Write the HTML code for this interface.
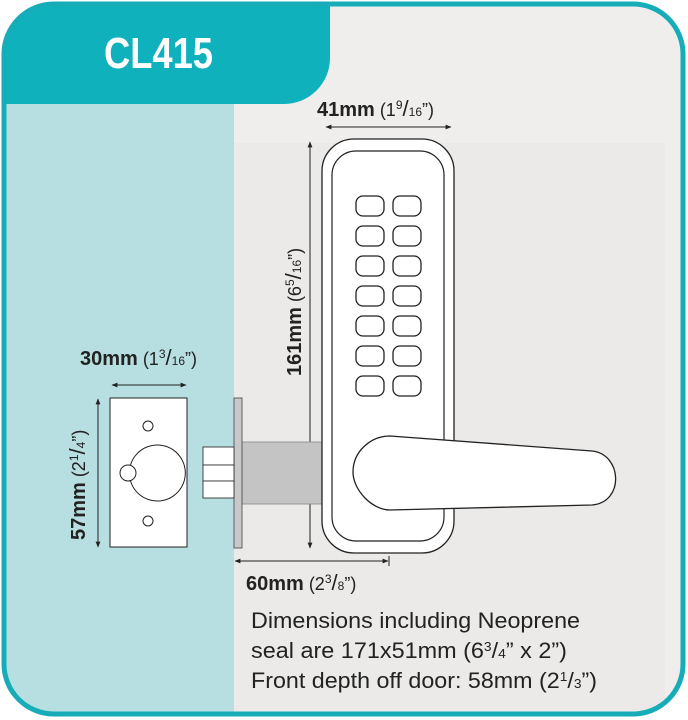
<!DOCTYPE html>
<html><head><style>html,body{margin:0;padding:0;background:#fff}svg{display:block}</style></head>
<body>
<svg width="688" height="720" viewBox="0 0 688 720" xmlns="http://www.w3.org/2000/svg" font-family="Liberation Sans, sans-serif">
<defs>
<clipPath id="fr"><rect x="4" y="4" width="679" height="710" rx="50"/></clipPath>
<marker id="ah" viewBox="0 0 10 10" refX="9" refY="5" markerWidth="6" markerHeight="6" orient="auto-start-reverse"><path d="M0,1 L10,5 L0,9 z" fill="#222"/></marker>
</defs>
<g clip-path="url(#fr)">
<rect x="0" y="0" width="688" height="720" fill="#efeeed"/>
<rect x="65" y="143" width="600" height="580" fill="#ebeae9"/>
<rect x="0" y="100" width="234" height="620" fill="#b7dee0"/>
<path d="M0,0 H330 V58 A46,46 0 0 1 284,104 H0 Z" fill="#0fb1bd"/>
</g>
<rect x="4" y="4" width="679" height="710" rx="50" fill="none" stroke="#17adb8" stroke-width="5"/>
<text x="104" y="68" font-size="44" font-weight="bold" fill="#fff" textLength="109" lengthAdjust="spacingAndGlyphs">CL415</text>

<!-- 41mm -->
<text x="317" y="116" font-size="20" fill="#222"><tspan font-weight="bold">41mm</tspan><tspan font-size="18"> (1</tspan><tspan font-size="12" dy="-7">9</tspan><tspan font-size="22" dy="7">/</tspan><tspan font-size="12">16</tspan><tspan font-size="18">”)</tspan></text>
<line x1="326" y1="127" x2="451" y2="127" stroke="#222" stroke-width="1" marker-start="url(#ah)" marker-end="url(#ah)"/>

<!-- 161mm vertical -->
<line x1="310" y1="142" x2="310" y2="548" stroke="#222" stroke-width="1" marker-start="url(#ah)" marker-end="url(#ah)"/>
<text transform="translate(301,376) rotate(-90)" font-size="20" fill="#222"><tspan font-weight="bold">161mm</tspan><tspan font-size="18"> (6</tspan><tspan font-size="12" dy="-7">5</tspan><tspan font-size="22" dy="7">/</tspan><tspan font-size="12">16</tspan><tspan font-size="18">”)</tspan></text>

<!-- spindle -->
<rect x="242" y="442" width="81" height="62" fill="#c4c4c4" stroke="#888" stroke-width="0.8"/>

<!-- keypad -->
<rect x="322" y="139" width="132" height="414" rx="32" fill="#fff" stroke="#222" stroke-width="1.3"/>
<rect x="332" y="151" width="112" height="390" rx="24" fill="#fff" stroke="#222" stroke-width="1.2"/>
<g fill="#fff" stroke="#222" stroke-width="1.3">
<rect x="356" y="196" width="28" height="20" rx="7"/><rect x="393" y="196" width="28" height="20" rx="7"/>
<rect x="356" y="226" width="28" height="20" rx="7"/><rect x="393" y="226" width="28" height="20" rx="7"/>
<rect x="356" y="256" width="28" height="20" rx="7"/><rect x="393" y="256" width="28" height="20" rx="7"/>
<rect x="356" y="286" width="28" height="20" rx="7"/><rect x="393" y="286" width="28" height="20" rx="7"/>
<rect x="356" y="316" width="28" height="20" rx="7"/><rect x="393" y="316" width="28" height="20" rx="7"/>
<rect x="356" y="346" width="28" height="20" rx="7"/><rect x="393" y="346" width="28" height="20" rx="7"/>
<rect x="356" y="376" width="28" height="20" rx="7"/><rect x="393" y="376" width="28" height="20" rx="7"/>
</g>
<!-- handle -->
<path d="M390,436 L592,451 C622,454 625,502 592,505 L390,510 C372,510 353,490 353,472 C353,452 370,436 390,436 Z" fill="#fff" stroke="#222" stroke-width="1.3"/>

<!-- door edge plate and latch -->
<rect x="234" y="398" width="8" height="150" fill="#c8c8c8" stroke="#444" stroke-width="0.8"/>
<g fill="#fff" stroke="#333" stroke-width="0.9">
<rect x="203" y="447" width="31" height="18"/><rect x="203" y="465" width="31" height="16"/><rect x="203" y="481" width="31" height="17"/>
</g>

<!-- faceplate -->
<rect x="110" y="398" width="77" height="149" fill="#fff" stroke="#222" stroke-width="1"/>
<circle cx="148" cy="426" r="5" fill="#fff" stroke="#222" stroke-width="1"/>
<circle cx="148" cy="521" r="5" fill="#fff" stroke="#222" stroke-width="1"/>
<path d="M130.5,465 A28,28 0 1 1 130.5,481" fill="none" stroke="#222" stroke-width="1"/>
<circle cx="128" cy="473" r="8" fill="#fff" stroke="#222" stroke-width="1"/>

<!-- 30mm -->
<text x="80" y="365" font-size="20" fill="#222"><tspan font-weight="bold">30mm</tspan><tspan font-size="18"> (1</tspan><tspan font-size="12" dy="-7">3</tspan><tspan font-size="22" dy="7">/</tspan><tspan font-size="12">16</tspan><tspan font-size="18">”)</tspan></text>
<line x1="112" y1="385" x2="186" y2="385" stroke="#222" stroke-width="1" marker-start="url(#ah)" marker-end="url(#ah)"/>

<!-- 57mm -->
<line x1="98" y1="399" x2="98" y2="547" stroke="#222" stroke-width="1" marker-start="url(#ah)" marker-end="url(#ah)"/>
<text transform="translate(85,540) rotate(-90)" font-size="20" fill="#222"><tspan font-weight="bold">57mm</tspan><tspan font-size="18"> (2</tspan><tspan font-size="12" dy="-7">1</tspan><tspan font-size="22" dy="7">/</tspan><tspan font-size="12">4</tspan><tspan font-size="18">”)</tspan></text>

<!-- 60mm -->
<line x1="235" y1="561" x2="388" y2="561" stroke="#222" stroke-width="1" marker-start="url(#ah)" marker-end="url(#ah)"/>
<line x1="389" y1="556" x2="389" y2="566" stroke="#222" stroke-width="1"/>
<text x="246" y="590" font-size="20" fill="#222"><tspan font-weight="bold">60mm</tspan><tspan font-size="18"> (2</tspan><tspan font-size="12" dy="-7">3</tspan><tspan font-size="22" dy="7">/</tspan><tspan font-size="12">8</tspan><tspan font-size="18">”)</tspan></text>

<!-- notes -->
<text x="251" y="628" font-size="22" fill="#222" textLength="329" lengthAdjust="spacingAndGlyphs">Dimensions including Neoprene</text>
<text x="251" y="658" font-size="22" fill="#222" textLength="316" lengthAdjust="spacingAndGlyphs">seal are 171x51mm (6<tspan font-size="13" dy="-7">3</tspan><tspan dy="7">/</tspan><tspan font-size="13">4</tspan>” x 2”)</text>
<text x="251" y="688" font-size="22" fill="#222" textLength="346" lengthAdjust="spacingAndGlyphs">Front depth off door: 58mm (2<tspan font-size="13" dy="-7">1</tspan><tspan dy="7">/</tspan><tspan font-size="13">3</tspan>”)</text>
</svg>
</body></html>
